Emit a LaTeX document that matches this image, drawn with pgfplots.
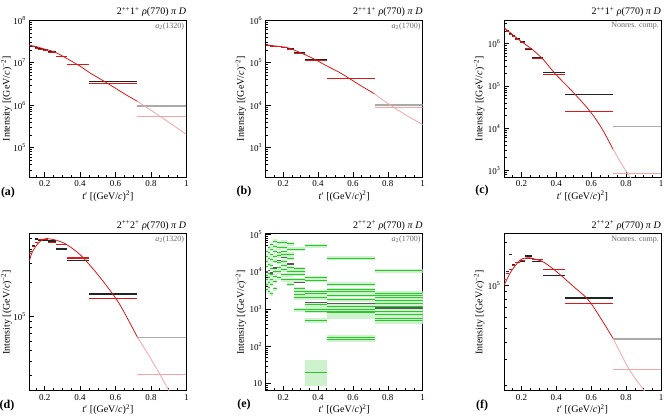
\documentclass[border=0pt]{standalone}
\usepackage{pgfplots}
\usepackage{pgfplotstable}
\pgfplotsset{compat=1.18}
\usepackage{fontspec}
\setmainfont{Liberation Serif}

\definecolor{dat}{RGB}{35,35,35}
\definecolor{mod}{RGB}{215,25,25}
\definecolor{datf}{RGB}{170,170,170}
\definecolor{modf}{RGB}{245,165,165}
\definecolor{grn}{RGB}{40,200,40}
\definecolor{grnb}{RGB}{205,242,205}

\pgfplotsset{
  scale only axis, width=157pt, height=157pt,
  xmin=0.1, xmax=1, clip mode=individual,
  axis line style={line width=0.8pt},
  tick align=inside, xtick pos=left, ytick pos=left,
  major tick length=5pt, minor tick length=2.5pt,
  tick style={black, line width=0.6pt},
  xtick={0.2,0.4,0.6,0.8,1}, xticklabels={0.2,0.4,0.6,0.8,1},
  minor xtick={0.1,0.15,0.25,0.3,0.35,0.45,0.5,0.55,0.65,0.7,0.75,0.85,0.9,0.95},
  tick label style={font=\fontsize{9}{10}\selectfont},
  xlabel={\textit{t}′ [(GeV/\textit{c})\textsuperscript{2}]},
  ylabel={Intensity [(GeV/\textit{c})\textsuperscript{−2}]},
  x label style={at={(axis description cs:0.5,-0.122)}, anchor=center, font=\fontsize{10}{12}\selectfont},
  y label style={at={(axis description cs:-0.158,0.5)}, anchor=center, font=\fontsize{10}{12}\selectfont},
}
\newcommand{\ttl}[1]{\node[anchor=south east, inner sep=0pt, yshift=3pt, font=\fontsize{10}{12}\selectfont] at (rel axis cs:1,1) {#1};}
\newcommand{\wave}[1]{\node[anchor=north east, inner sep=2pt, text=black!60, font=\fontsize{8}{9}\selectfont] at (rel axis cs:1,1) {#1};}
\newcommand{\oneplus}{2\textsuperscript{++}1\textsuperscript{+} \textit{ρ}(770) \textit{π} \textit{D}}
\newcommand{\twoplus}{2\textsuperscript{++}2\textsuperscript{+} \textit{ρ}(770) \textit{π} \textit{D}}
% horizontal bin bars: lo hi v, drawn as x error bars
\newcommand{\bins}[2]{\addplot[mark=none, draw=none, forget plot,
    error bars/x dir=both, error bars/x explicit, error bars/error mark=none,
    error bars/error bar style={#1}]
  table[row sep=\\, x expr={(\thisrow{lo}+\thisrow{hi})/2}, y=v, x error expr={(\thisrow{hi}-\thisrow{lo})/2}] {#2};}

\pgfplotstableread{
lo hi v
0.100 0.113 3.6e4
0.100 0.113 2.6e4
0.100 0.113 1.9e4
0.100 0.113 1.4e4
0.100 0.113 8.0e3
0.100 0.113 6.2e3
0.100 0.113 4.6e3
0.100 0.113 3.3e3
0.113 0.127 4.4e4
0.113 0.127 3.2e4
0.113 0.127 2.3e4
0.113 0.127 1.6e4
0.113 0.127 9.0e3
0.113 0.127 7.0e3
0.113 0.127 5.2e3
0.113 0.127 3.8e3
0.113 0.127 2.9e3
0.127 0.144 5.4e4
0.127 0.144 4.0e4
0.127 0.144 2.9e4
0.127 0.144 2.1e4
0.127 0.144 1.5e4
0.127 0.144 1.2e4
0.127 0.144 8.4e3
0.127 0.144 6.2e3
0.127 0.144 4.6e3
0.127 0.144 2.6e3
0.144 0.164 6.6e4
0.144 0.164 4.9e4
0.144 0.164 3.6e4
0.144 0.164 2.6e4
0.144 0.164 1.9e4
0.144 0.164 1.04e4
0.144 0.164 7.6e3
0.144 0.164 5.6e3
0.144 0.164 3.5e3
0.164 0.189 6.0e4
0.164 0.189 4.4e4
0.164 0.189 3.2e4
0.164 0.189 2.7e4
0.164 0.189 1.8e4
0.164 0.189 1.3e4
0.164 0.189 1.0e4
0.164 0.189 7.0e3
0.189 0.220 6.2e4
0.189 0.220 4.6e4
0.189 0.220 3.4e4
0.189 0.220 2.9e4
0.189 0.220 1.9e4
0.189 0.220 1.5e4
0.189 0.220 1.15e4
0.189 0.220 8.4e3
0.189 0.220 6.2e3
0.220 0.262 5.6e4
0.220 0.262 4.0e4
0.220 0.262 3.0e4
0.220 0.262 2.3e4
0.220 0.262 1.3e4
0.220 0.262 1.04e4
0.220 0.262 8.4e3
0.220 0.262 6.2e3
0.220 0.262 4.6e3
0.262 0.326 4.0e4
0.262 0.326 1.2e4
0.262 0.326 1.0e4
0.262 0.326 8.5e3
0.262 0.326 6.2e3
0.262 0.326 3.5e3
0.262 0.326 2.9e3
0.262 0.326 2.4e3
0.262 0.326 2.0e3
0.262 0.326 9.5e2
0.326 0.449 5.0e4
0.326 0.449 6.9e3
0.326 0.449 5.9e3
0.326 0.449 2.9e3
0.326 0.449 2.6e3
0.326 0.449 2.0e3
0.326 0.449 1.32e3
0.326 0.449 1.0e3
0.326 0.449 8.7e2
0.326 0.449 4.9e2
0.326 0.449 20
0.449 0.724 2.3e4
0.449 0.724 4.6e3
0.449 0.724 3.3e3
0.449 0.724 2.9e3
0.449 0.724 2.35e3
0.449 0.724 1.8e3
0.449 0.724 1.2e3
0.449 0.724 1.0e3
0.449 0.724 8.7e2
0.449 0.724 7.9e2
0.449 0.724 1.7e2
0.449 0.724 1.52e2
0.724 1.000 1.07e4
0.724 1.000 2.7e3
0.724 1.000 2.35e3
0.724 1.000 2.0e3
0.724 1.000 1.7e3
0.724 1.000 1.38e3
0.724 1.000 1.2e3
0.724 1.000 8.7e2
0.724 1.000 7.15e2
0.724 1.000 5.6e2
0.724 1.000 4.9e2
}\greens

\begin{document}
\begin{tikzpicture}
\useasboundingbox (0,0) rectangle (668pt,418pt);

% ---------- (a)
\begin{axis}[ymode=log, at={(29.3pt,240.7pt)}, anchor=south west, xmin=0.113, ymin=2e4, ymax=1e8,
  y label style={at={(axis description cs:-0.145,0.5)}},
  ytick={1e5,1e6,1e7,1e8}, yticklabels={10\textsuperscript{5},10\textsuperscript{6},10\textsuperscript{7},10\textsuperscript{8}},
  minor ytick={3e4,4e4,5e4,6e4,7e4,8e4,9e4,2e5,3e5,4e5,5e5,6e5,7e5,8e5,9e5,2e6,3e6,4e6,5e6,6e6,7e6,8e6,9e6,2e7,3e7,4e7,5e7,6e7,7e7,8e7,9e7}]
\bins{draw=dat, line width=1.4pt}{
lo hi v \\
0.113 0.127 2.45e7 \\
0.127 0.144 2.40e7 \\
0.144 0.164 2.25e7 \\
0.164 0.189 2.10e7 \\
0.189 0.220 2.00e7 \\
0.220 0.262 1.78e7 \\
0.262 0.326 1.40e7 \\
0.326 0.449 9.1e6 \\
0.449 0.724 3.6e6 \\
}
\bins{draw=datf, line width=1.4pt}{
lo hi v \\
0.724 1.000 9.6e5 \\
}
\bins{draw=mod, line width=1pt}{
lo hi v \\
0.113 0.127 2.50e7 \\
0.127 0.144 2.35e7 \\
0.144 0.164 2.20e7 \\
0.164 0.189 2.08e7 \\
0.189 0.220 1.95e7 \\
0.220 0.262 1.75e7 \\
0.262 0.326 1.38e7 \\
0.326 0.449 8.9e6 \\
0.449 0.724 3.2e6 \\
}
\bins{draw=modf, line width=1pt}{
lo hi v \\
0.724 1.000 5.5e5 \\
}
\addplot[modf, line width=0.8pt, smooth, mark=none] coordinates {(0.724,1.23e6)(0.8,7.6e5)(0.9,4.0e5)(1.0,2.04e5)};
\addplot[mod, line width=0.8pt, smooth, mark=none] coordinates {(0.113,2.57e7)(0.15,2.42e7)(0.192,2.14e7)(0.258,1.78e7)(0.334,1.2e7)(0.40,8.3e6)(0.456,5.75e6)(0.52,4.0e6)(0.588,2.69e6)(0.655,1.8e6)(0.724,1.23e6)};
\ttl{\oneplus}
\wave{\textit{a}\textsubscript{2}(1320)}
\end{axis}

% ---------- (b)
\begin{axis}[ymode=log, at={(265.7pt,240.7pt)}, anchor=south west, ymin=2e2, ymax=1e6,
  ytick={1e3,1e4,1e5,1e6}, yticklabels={10\textsuperscript{3},10\textsuperscript{4},10\textsuperscript{5},10\textsuperscript{6}},
  minor ytick={3e2,4e2,5e2,6e2,7e2,8e2,9e2,2e3,3e3,4e3,5e3,6e3,7e3,8e3,9e3,2e4,3e4,4e4,5e4,6e4,7e4,8e4,9e4,2e5,3e5,4e5,5e5,6e5,7e5,8e5,9e5}]
\bins{draw=dat, line width=1.4pt}{
lo hi v \\
0.100 0.113 2.60e5 \\
0.113 0.127 2.55e5 \\
0.127 0.144 2.50e5 \\
0.144 0.164 2.45e5 \\
0.164 0.189 2.40e5 \\
0.189 0.220 2.30e5 \\
0.220 0.262 2.10e5 \\
0.262 0.326 1.70e5 \\
0.326 0.449 1.15e5 \\
0.449 0.724 4.3e4 \\
}
\bins{draw=datf, line width=1.4pt}{
lo hi v \\
0.724 1.000 1.02e4 \\
}
\bins{draw=mod, line width=1pt}{
lo hi v \\
0.100 0.113 2.58e5 \\
0.113 0.127 2.52e5 \\
0.127 0.144 2.46e5 \\
0.144 0.164 2.40e5 \\
0.164 0.189 2.35e5 \\
0.189 0.220 2.25e5 \\
0.220 0.262 2.05e5 \\
0.262 0.326 1.66e5 \\
0.326 0.449 1.12e5 \\
0.449 0.724 4.2e4 \\
}
\bins{draw=modf, line width=1pt}{
lo hi v \\
0.724 1.000 8.7e3 \\
}
\addplot[modf, line width=0.8pt, smooth, mark=none] coordinates {(0.723,1.86e4)(0.8,1.1e4)(0.9,6.0e3)(1.0,3.5e3)};
\addplot[mod, line width=0.8pt, smooth, mark=none] coordinates {(0.1,2.63e5)(0.15,2.5e5)(0.219,2.3e5)(0.261,2.0e5)(0.325,1.55e5)(0.39,1.15e5)(0.448,8.5e4)(0.52,6.0e4)(0.579,4.27e4)(0.65,2.8e4)(0.723,1.86e4)};
\ttl{\oneplus}
\wave{\textit{a}\textsubscript{2}(1700)}
\end{axis}

% ---------- (c)
\begin{axis}[ymode=log, at={(504pt,240.7pt)}, anchor=south west, ymin=690, ymax=3.6e6,
  ytick={1e3,1e4,1e5,1e6}, yticklabels={10\textsuperscript{3},10\textsuperscript{4},10\textsuperscript{5},10\textsuperscript{6}},
  minor ytick={7e2,8e2,9e2,2e3,3e3,4e3,5e3,6e3,7e3,8e3,9e3,2e4,3e4,4e4,5e4,6e4,7e4,8e4,9e4,2e5,3e5,4e5,5e5,6e5,7e5,8e5,9e5,2e6,3e6}]
\bins{draw=dat, line width=1.4pt}{
lo hi v \\
0.100 0.113 2.30e6 \\
0.113 0.127 2.00e6 \\
0.127 0.144 1.73e6 \\
0.144 0.164 1.52e6 \\
0.164 0.189 1.31e6 \\
0.189 0.220 1.10e6 \\
0.220 0.262 7.3e5 \\
0.262 0.326 4.6e5 \\
0.326 0.449 2.1e5 \\
0.449 0.724 6.2e4 \\
}
\bins{draw=datf, line width=1.4pt}{
lo hi v \\
0.724 1.000 1.1e4 \\
}
\bins{draw=mod, line width=1pt}{
lo hi v \\
0.100 0.113 2.25e6 \\
0.113 0.127 1.98e6 \\
0.127 0.144 1.70e6 \\
0.144 0.164 1.48e6 \\
0.164 0.189 1.28e6 \\
0.189 0.220 1.05e6 \\
0.220 0.262 7.9e5 \\
0.262 0.326 4.6e5 \\
0.326 0.449 1.9e5 \\
0.449 0.724 2.5e4 \\
}
\bins{draw=modf, line width=1pt}{
lo hi v \\
0.724 1.000 8.7e2 \\
}
\addplot[modf, line width=0.8pt, smooth, mark=none] coordinates {(0.725,3.2e3)(0.78,1.3e3)(0.84,5.5e2)(0.9,2.4e2)(1.0,60)};
\addplot[mod, line width=0.8pt, smooth, mark=none] coordinates {(0.1,2.35e6)(0.144,1.73e6)(0.188,1.22e6)(0.261,7.4e5)(0.326,4.2e5)(0.393,1.96e5)(0.498,7.0e4)(0.594,2.5e4)(0.66,1.0e4)(0.725,3.2e3)};
\ttl{\oneplus}
\wave{Nonres. comp.}
\end{axis}

% ---------- (d)
\begin{axis}[ymode=log, at={(29.3pt,27.3pt)}, anchor=south west, xmin=0.113, ymin=2.17e4, ymax=5.46e5,
  y label style={at={(axis description cs:-0.145,0.5)}},
  ytick={1e5}, yticklabels={10\textsuperscript{5}},
  minor ytick={3e4,4e4,5e4,6e4,7e4,8e4,9e4,2e5,3e5,4e5,5e5}]
\bins{draw=dat, line width=1.4pt}{
lo hi v \\
0.113 0.127 3.8e5 \\
0.127 0.144 4.3e5 \\
0.144 0.164 4.9e5 \\
0.164 0.189 4.76e5 \\
0.189 0.220 4.78e5 \\
0.220 0.262 4.68e5 \\
0.262 0.326 4.0e5 \\
0.326 0.449 3.15e5 \\
0.449 0.724 1.58e5 \\
}
\bins{draw=datf, line width=1.4pt}{
lo hi v \\
0.724 1.000 6.5e4 \\
}
\bins{draw=mod, line width=1pt}{
lo hi v \\
0.113 0.127 3.6e5 \\
0.127 0.144 4.2e5 \\
0.144 0.164 4.6e5 \\
0.164 0.189 4.8e5 \\
0.189 0.220 4.85e5 \\
0.220 0.262 4.6e5 \\
0.262 0.326 4.4e5 \\
0.326 0.449 3.38e5 \\
0.326 0.449 3.28e5 \\
0.449 0.724 1.44e5 \\
}
\bins{draw=modf, line width=1pt}{
lo hi v \\
0.724 1.000 3.0e4 \\
}
\addplot[modf, line width=0.8pt, smooth, mark=none] coordinates {(0.724,6.5e4)(0.78,4.7e4)(0.853,3.0e4)(0.9,2.2e4)(1.0,1.2e4)};
\addplot[mod, line width=0.8pt, smooth, mark=none] coordinates {(0.113,3.1e5)(0.125,3.6e5)(0.136,3.9e5)(0.164,4.5e5)(0.19,4.85e5)(0.211,4.95e5)(0.23,4.9e5)(0.27,4.75e5)(0.324,4.37e5)(0.40,3.55e5)(0.475,2.63e5)(0.551,1.86e5)(0.626,1.26e5)(0.724,6.5e4)};
\ttl{\twoplus}
\wave{\textit{a}\textsubscript{2}(1320)}
\end{axis}

% ---------- (e)
\begin{axis}[ymode=log, at={(265.7pt,27.3pt)}, anchor=south west, ymin=6.5, ymax=1.05e5,
  ytick={10,1e2,1e3,1e4,1e5}, yticklabels={10,10\textsuperscript{2},10\textsuperscript{3},10\textsuperscript{4},10\textsuperscript{5}},
  minor ytick={7,8,9,20,30,40,50,60,70,80,90,2e2,3e2,4e2,5e2,6e2,7e2,8e2,9e2,2e3,3e3,4e3,5e3,6e3,7e3,8e3,9e3,2e4,3e4,4e4,5e4,6e4,7e4,8e4,9e4}]
\addplot[fill=grnb, draw=none, forget plot] coordinates {(0.326,8.5)(0.449,8.5)(0.449,42)(0.326,42)} -- cycle;
\addplot[fill=grnb, draw=none, forget plot] coordinates {(0.449,5.5e2)(0.724,5.5e2)(0.724,1.0e3)(0.449,1.0e3)} -- cycle;
\addplot[fill=grnb, draw=none, forget plot] coordinates {(0.449,1.35e2)(0.724,1.35e2)(0.724,2.0e2)(0.449,2.0e2)} -- cycle;
\addplot[fill=grnb, draw=none, forget plot] coordinates {(0.724,3.9e2)(1.0,3.9e2)(1.0,2.7e3)(0.724,2.7e3)} -- cycle;
\addplot[fill=grnb, draw=none, forget plot] coordinates {(0.326,4.2e2)(0.449,4.2e2)(0.449,5.8e2)(0.326,5.8e2)} -- cycle;
\bins{draw=grnb, line width=4pt}{\greens}
\bins{draw=grn, line width=1pt}{\greens}
\bins{draw=black!65, line width=1.4pt}{
lo hi v \\
0.100 0.113 1.0e4 \\
0.113 0.127 1.1e4 \\
0.127 0.144 9.4e3 \\
0.144 0.164 1.27e4 \\
0.164 0.189 2.0e4 \\
0.189 0.220 2.4e4 \\
0.220 0.262 1.6e4 \\
0.262 0.326 5.2e3 \\
0.326 0.449 1.5e3 \\
0.449 0.724 1.4e3 \\
0.724 1.000 1.07e3 \\
}
\ttl{\twoplus}
\wave{\textit{a}\textsubscript{2}(1700)}
\end{axis}

% ---------- (f)
\begin{axis}[ymode=log, at={(504pt,27.3pt)}, anchor=south west, ymin=1.82e4, ymax=2.3e5,
  ytick={1e5}, yticklabels={10\textsuperscript{5}},
  minor ytick={2e4,3e4,4e4,5e4,6e4,7e4,8e4,9e4,2e5}]
\bins{draw=dat, line width=1.4pt}{
lo hi v \\
0.113 0.127 1.25e5 \\
0.127 0.144 1.65e5 \\
0.144 0.164 1.40e5 \\
0.164 0.189 1.44e5 \\
0.189 0.220 1.47e5 \\
0.220 0.262 1.60e5 \\
0.262 0.326 1.47e5 \\
0.326 0.449 1.17e5 \\
0.449 0.724 8.15e4 \\
}
\bins{draw=datf, line width=1.4pt}{
lo hi v \\
0.724 1.000 4.2e4 \\
}
\bins{draw=mod, line width=1pt}{
lo hi v \\
0.100 0.113 1.10e5 \\
0.113 0.127 1.20e5 \\
0.127 0.144 1.30e5 \\
0.144 0.164 1.38e5 \\
0.164 0.189 1.45e5 \\
0.189 0.220 1.50e5 \\
0.220 0.262 1.55e5 \\
0.262 0.326 1.52e5 \\
0.326 0.449 1.29e5 \\
0.449 0.724 7.5e4 \\
}
\bins{draw=modf, line width=1pt}{
lo hi v \\
0.724 1.000 2.57e4 \\
}
\addplot[modf, line width=0.8pt, smooth, mark=none] coordinates {(0.725,4.24e4)(0.815,2.6e4)(0.9,1.85e4)(1.0,1.3e4)};
\addplot[mod, line width=0.8pt, smooth, mark=none] coordinates {(0.1,1.0e5)(0.12,1.12e5)(0.144,1.27e5)(0.192,1.5e5)(0.221,1.55e5)(0.25,1.56e5)(0.269,1.535e5)(0.326,1.455e5)(0.403,1.24e5)(0.498,9.8e4)(0.594,7.6e4)(0.725,4.24e4)};
\ttl{\twoplus}
\wave{Nonres. comp.}
\end{axis}

\node[font=\fontsize{12}{14}\selectfont\bfseries] at (8pt,225pt) {(a)};
\node[font=\fontsize{12}{14}\selectfont\bfseries] at (244pt,226pt) {(b)};
\node[font=\fontsize{12}{14}\selectfont\bfseries] at (482pt,227pt) {(c)};
\node[font=\fontsize{12}{14}\selectfont\bfseries] at (7pt,12pt) {(d)};
\node[font=\fontsize{12}{14}\selectfont\bfseries] at (244pt,13pt) {(e)};
\node[font=\fontsize{12}{14}\selectfont\bfseries] at (482pt,12pt) {(f)};
\end{tikzpicture}
\end{document}
